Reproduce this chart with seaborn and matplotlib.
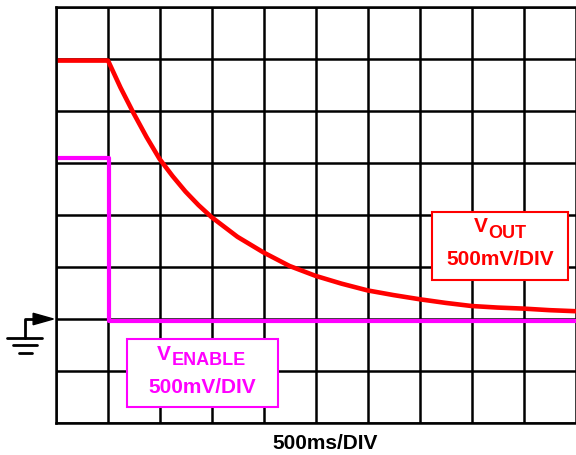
import matplotlib
matplotlib.use('Agg')
import matplotlib.pyplot as plt
import seaborn as sns
from matplotlib.patches import Rectangle, Polygon

# time in divisions (500 ms/div), voltage in divisions above ground (500 mV/div)
t_out = [0.0, 1.01, 1.25, 1.5, 1.75, 2.0, 2.25, 2.5, 2.75, 3.0, 3.5, 4.0, 4.5,
         5.0, 5.5, 6.0, 6.5, 7.0, 7.5, 8.0, 8.5, 9.0, 9.5, 10.0]
v_out = [4.97, 4.97, 4.45, 3.96, 3.5, 3.08, 2.75, 2.45, 2.19, 1.96, 1.58, 1.28,
         1.02, 0.83, 0.68, 0.55, 0.46, 0.38, 0.31, 0.25, 0.22, 0.2, 0.17, 0.15]

t_enable = [0.0, 1.03, 1.03, 10.0]
v_enable = [3.1, 3.1, -0.03, -0.03]

red = '#ff0000'
magenta = '#ff00ff'

sns.set_style('white')
plt.rcParams['font.family'] = ['Liberation Sans', 'DejaVu Sans']

fig = plt.figure(figsize=(5.76, 4.56), dpi=100)
ax = fig.add_axes([55.5 / 576, 32 / 456, 520 / 576, 416 / 456])

sns.lineplot(x=t_out, y=v_out, ax=ax, color=red, lw=3.3, estimator=None, sort=False)
sns.lineplot(x=t_enable, y=v_enable, ax=ax, color=magenta, lw=3,
             estimator=None, sort=False)

ax.set_xlim(0, 10)
ax.set_ylim(-2, 6)
ax.set_xticks(range(11))
ax.set_yticks(range(-2, 7))
ax.tick_params(length=0, labelbottom=False, labelleft=False)
ax.grid(True, color='black', lw=1.8)
ax.set_axisbelow(True)
for s in ax.spines.values():
    s.set_color('black')
    s.set_linewidth(1.8)
ax.spines['right'].set_visible(False)

fig.text(325 / 576, 1 - 444 / 456, '500ms/DIV', fontsize=15, fontweight='bold',
         color='black', ha='center', va='center')

# label boxes
ax.add_patch(Rectangle((7.235, 0.756), 2.627, 1.307, facecolor='white',
                       edgecolor=red, lw=1.5, zorder=5))
ax.text(8.55 - 0.24, 1.80, 'V', color=red, fontsize=15, fontweight='bold',
        ha='right', va='center', zorder=6)
ax.text(8.55 - 0.22, 1.67, 'OUT', color=red, fontsize=13, fontweight='bold',
        ha='left', va='center', zorder=6)
ax.text(8.55, 1.154, '500mV/DIV', color=red, fontsize=15, fontweight='bold',
        ha='center', va='center', zorder=6)

ax.add_patch(Rectangle((1.369, -1.687), 2.916, 1.302, facecolor='white',
                       edgecolor=magenta, lw=1.5, zorder=5))
ax.text(2.827 - 0.62, -0.654, 'V', color=magenta, fontsize=15, fontweight='bold',
        ha='right', va='center', zorder=6)
ax.text(2.827 - 0.60, -0.77, 'ENABLE', color=magenta, fontsize=13,
        fontweight='bold', ha='left', va='center', zorder=6)
ax.text(2.827, -1.298, '500mV/DIV', color=magenta, fontsize=15,
        fontweight='bold', ha='center', va='center', zorder=6)

# ground marker
ax.plot([-0.587, -0.587, -0.43], [-0.37, 0, 0], color='black', lw=2, clip_on=False)
ax.add_patch(Polygon([[-0.43, 0.11], [-0.04, 0], [-0.43, -0.11]], closed=True,
                     color='black', clip_on=False))
for y, x0, x1 in [(-0.37, -0.927, -0.253), (-0.5, -0.81, -0.36), (-0.66, -0.70, -0.45)]:
    ax.plot([x0, x1], [y, y], color='black', lw=2, clip_on=False)

fig.savefig('out.png', dpi=100)
